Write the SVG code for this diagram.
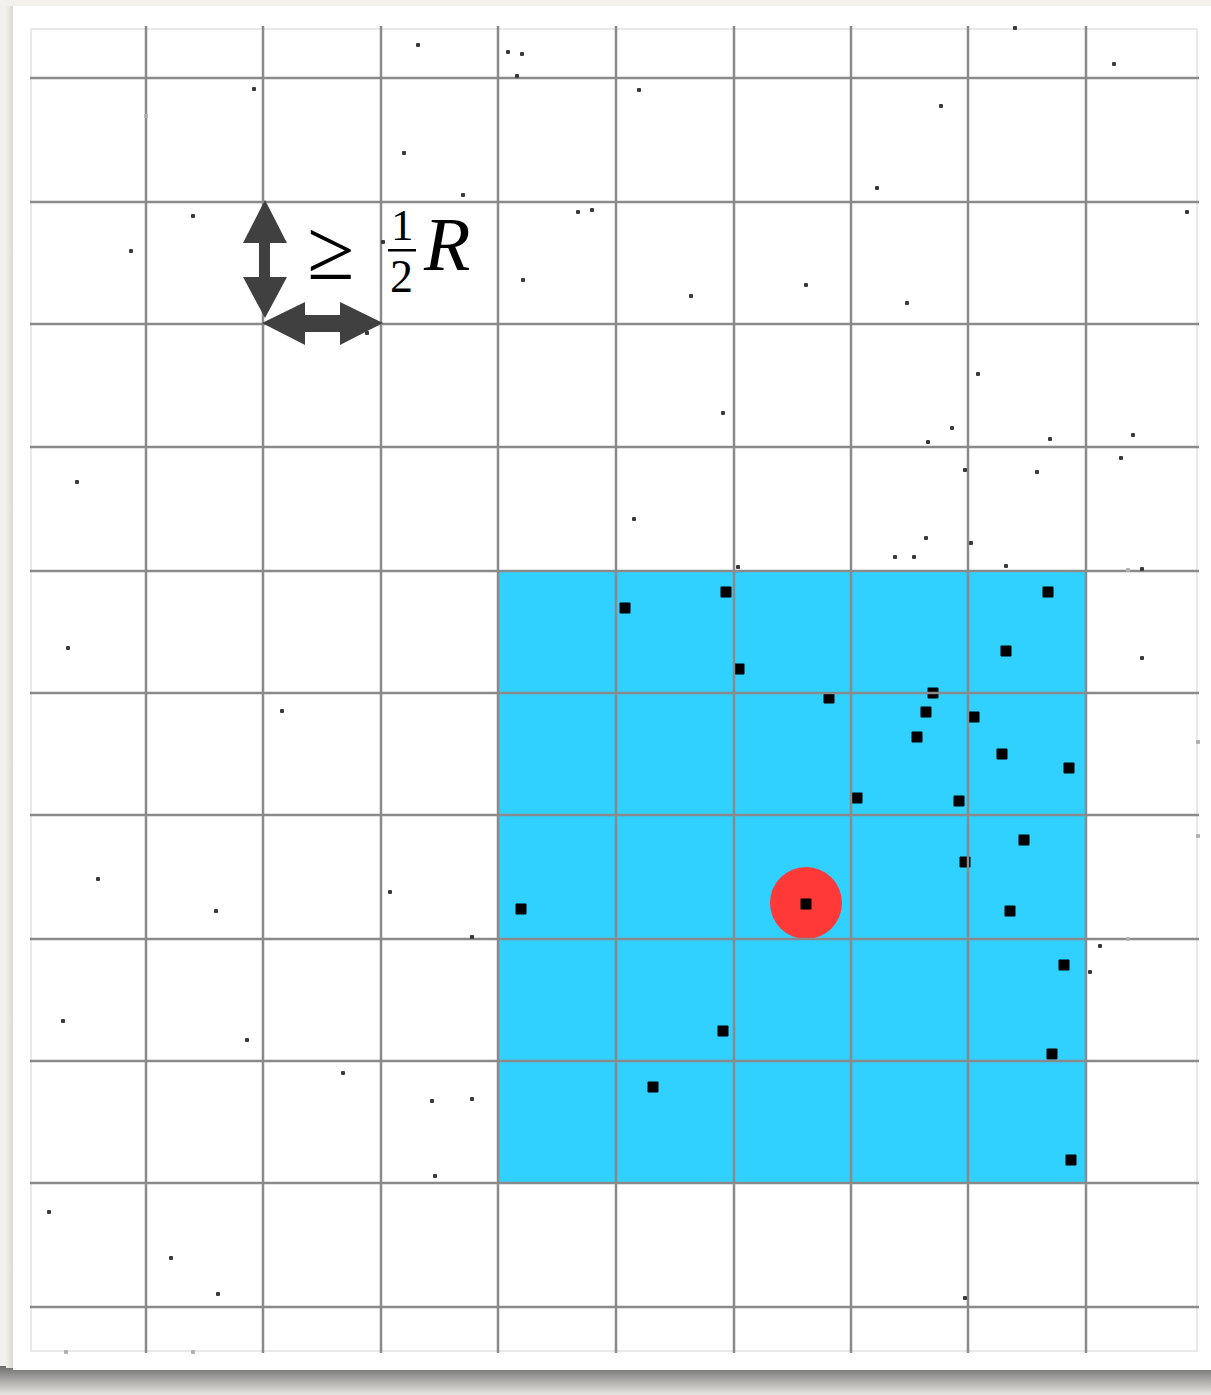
<svg xmlns="http://www.w3.org/2000/svg" width="1211" height="1395" viewBox="0 0 1211 1395">
<defs>
<style>
.g{stroke:#8a8a8a;stroke-width:2.5;fill:none}
.d{fill:#3a3a3a}
.s{fill:#000}
.ar{fill:#404040}
.t{font-family:"Liberation Serif","DejaVu Serif",serif;fill:#000}
</style>
<linearGradient id="sh" x1="0" y1="0" x2="0" y2="1">
<stop offset="0" stop-color="#6e6e6e"/>
<stop offset="1" stop-color="#e8e6e1"/>
</linearGradient>
<linearGradient id="shl" x1="0" y1="0" x2="1" y2="0">
<stop offset="0" stop-color="#f2f0eb"/>
<stop offset="1" stop-color="#d8d6d1"/>
</linearGradient>
<symbol id="dot" overflow="visible"><rect x="-2" y="-2" width="4" height="4" rx="1"/></symbol>
<symbol id="sq" overflow="visible"><rect x="-5.5" y="-5.5" width="11" height="11" rx="1"/></symbol>
</defs>
<rect width="1211" height="1395" fill="#f3f1ec"/>
<rect x="0" y="1366" width="1211" height="29" fill="url(#sh)"/>
<rect x="6" y="6" width="8" height="1362" fill="url(#shl)"/>
<rect x="13" y="6" width="1198" height="1364" fill="#ffffff"/>
<rect x="31" y="29" width="1166" height="1322" fill="#fff" stroke="#e2e2e2" stroke-width="1.5"/>

<g id="region">
<rect x="498" y="571" width="588" height="612" fill="#30d0ff"/>
</g>

<g id="target">
<circle cx="806" cy="903" r="36" fill="#ff3838"/>
</g>

<g id="points-near" class="s">
<use href="#sq" x="625" y="608"/><use href="#sq" x="726" y="592"/><use href="#sq" x="1048" y="592"/>
<use href="#sq" x="739" y="669"/><use href="#sq" x="1006" y="651"/><use href="#sq" x="829" y="698"/>
<use href="#sq" x="933" y="693"/><use href="#sq" x="926" y="712"/><use href="#sq" x="974" y="717"/>
<use href="#sq" x="917" y="737"/><use href="#sq" x="1002" y="754"/><use href="#sq" x="1069" y="768"/>
<use href="#sq" x="857" y="798"/><use href="#sq" x="959" y="801"/><use href="#sq" x="1024" y="840"/>
<use href="#sq" x="965" y="862"/><use href="#sq" x="521" y="909"/><use href="#sq" x="806" y="904"/>
<use href="#sq" x="1010" y="911"/><use href="#sq" x="1064" y="965"/><use href="#sq" x="723" y="1031"/>
<use href="#sq" x="1052" y="1054"/><use href="#sq" x="653" y="1087"/><use href="#sq" x="1071" y="1160"/>
</g>

<g id="grid" class="g">
<path d="M146 26V1353M263 26V1353M381 26V1353M498 26V1353M616 26V1353M734 26V1353M851 26V1353M968 26V1353M1086 26V1353"/>
<path d="M30 78H1199M30 202H1199M30 324H1199M30 447H1199M30 571H1199M30 693H1199M30 815H1199M30 939H1199M30 1061H1199M30 1183H1199M30 1307H1199"/>
</g>

<g id="points-far" class="d">
<use href="#dot" x="418" y="45"/><use href="#dot" x="508" y="52"/><use href="#dot" x="522" y="54"/>
<use href="#dot" x="517" y="76"/><use href="#dot" x="639" y="90"/><use href="#dot" x="404" y="153"/>
<use href="#dot" x="463" y="195"/><use href="#dot" x="578" y="212"/><use href="#dot" x="592" y="210"/>
<use href="#dot" x="877" y="188"/><use href="#dot" x="691" y="296"/><use href="#dot" x="806" y="285"/>
<use href="#dot" x="907" y="303"/><use href="#dot" x="978" y="374"/><use href="#dot" x="952" y="428"/>
<use href="#dot" x="928" y="442"/><use href="#dot" x="1050" y="439"/><use href="#dot" x="1133" y="435"/>
<use href="#dot" x="965" y="470"/><use href="#dot" x="1037" y="472"/><use href="#dot" x="1121" y="458"/>
<use href="#dot" x="926" y="538"/><use href="#dot" x="895" y="557"/><use href="#dot" x="914" y="557"/>
<use href="#dot" x="971" y="543"/><use href="#dot" x="1006" y="566"/><use href="#dot" x="1142" y="569"/>
<use href="#dot" x="738" y="567"/><use href="#dot" x="1142" y="658"/><use href="#dot" x="390" y="892"/>
<use href="#dot" x="472" y="937"/><use href="#dot" x="432" y="1101"/><use href="#dot" x="472" y="1099"/>
<use href="#dot" x="435" y="1176"/><use href="#dot" x="254" y="89"/><use href="#dot" x="1015" y="28"/>
<use href="#dot" x="1114" y="64"/><use href="#dot" x="171" y="1258"/><use href="#dot" x="218" y="1294"/>
<use href="#dot" x="941" y="106"/><use href="#dot" x="193" y="216"/><use href="#dot" x="1187" y="212"/>
<use href="#dot" x="131" y="251"/><use href="#dot" x="523" y="280"/><use href="#dot" x="723" y="413"/>
<use href="#dot" x="77" y="482"/><use href="#dot" x="634" y="519"/><use href="#dot" x="68" y="648"/>
<use href="#dot" x="282" y="711"/><use href="#dot" x="98" y="879"/><use href="#dot" x="216" y="911"/>
<use href="#dot" x="1100" y="946"/><use href="#dot" x="1090" y="972"/><use href="#dot" x="63" y="1021"/>
<use href="#dot" x="247" y="1040"/><use href="#dot" x="343" y="1073"/><use href="#dot" x="49" y="1212"/>
<use href="#dot" x="965" y="1298"/><use href="#dot" x="383" y="242"/><use href="#dot" x="367" y="333"/>
</g>
<g id="points-faint" fill="#b0b0b0">
<use href="#dot" x="146" y="116"/><use href="#dot" x="1128" y="570"/><use href="#dot" x="1128" y="939"/>
<use href="#dot" x="1198" y="742"/><use href="#dot" x="1198" y="836"/><use href="#dot" x="66" y="1352"/>
<use href="#dot" x="193" y="1352"/>
</g>

<g id="scale-arrows" class="ar">
<polygon points="265,200 287,243 270,243 270,277 287,277 265,318 243,277 259,277 259,243 243,243"/>
<polygon points="262,323 305,302 305,315 340,315 340,302 383,323 340,345 340,332 305,332 305,345"/>
</g>

<g id="label">
<text class="t" x="307" y="279" font-size="86">≥</text>
<text class="t" x="391" y="240" font-size="45">1</text>
<rect x="388" y="249" width="28" height="2.5" fill="#000"/>
<text class="t" x="390" y="292" font-size="46">2</text>
<text class="t" x="424" y="270" font-size="76" font-style="italic">R</text>
</g>
</svg>
